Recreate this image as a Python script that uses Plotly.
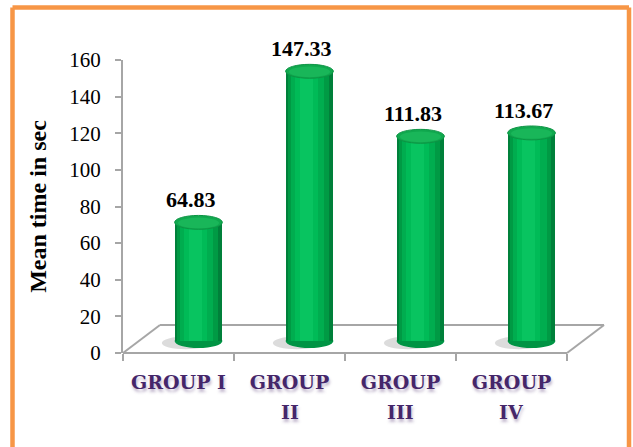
import plotly.graph_objects as go

categories = ["GROUP I", "GROUP II", "GROUP III", "GROUP IV"]
values = [64.83, 147.33, 111.83, 113.67]
labels = ["64.83", "147.33", "111.83", "113.67"]
y_ticks = [0, 20, 40, 60, 80, 100, 120, 140, 160]

W, H = 633, 447
L, R, T, B = 123, 28, 60, 94
XR = [-0.5, 3.842]
YR = [0, 160]
DX = 0.18      # depth shift of the cylinders (category units)
OFF = 6.5      # base height of the cylinders (value units)
HH = 3.8       # half height of the cap ellipse (value units)
BW = 0.43      # cylinder width

xs = [i + DX for i in range(len(values))]

layers = [  # (left offset, width, colour)
    (-BW / 2, BW, "#00803A"),
    (-0.195, 0.37, "#009A44"),
    (-0.165, 0.30, "#00AD4F"),
    (-0.13, 0.21, "#00BB57"),
    (-0.09, 0.12, "#08C460"),
]

fig = go.Figure()
for off, w, col in layers:
    fig.add_trace(go.Bar(
        x=xs, y=values, base=OFF, width=w, offset=off,
        marker=dict(color=col, line=dict(width=0)),
        hoverinfo="skip", showlegend=False,
    ))

# ticks on category boundaries
fig.add_trace(go.Scatter(x=[None], y=[None], xaxis="x2", showlegend=False))

shapes = []
def px(xp):
    return (xp - L) / (W - L - R)
def py(yp):
    return (H - B - yp) / (H - T - B)

# floor
fx0, fx1 = 0.0, (3.5 - XR[0]) / (XR[1] - XR[0])
dxp = 37 / (W - L - R)
dyp = 28 / (H - T - B)
floor_col = "#A6A6A6"
for (a, b, c, d) in [(fx0, 0, fx1, 0), (fx0, 0, fx0 + dxp, dyp), (fx1, 0, fx1 + dxp, dyp),
                     (fx0 + dxp, dyp, fx1 + dxp, dyp)]:
    shapes.append(dict(type="line", xref="paper", yref="paper", x0=a, y0=b, x1=c, y1=d,
                       line=dict(color=floor_col, width=2), layer="below"))

for xc, v in zip(xs, values):
    shapes.append(dict(type="circle", xref="x", yref="y", x0=xc - 0.33, x1=xc + 0.1,
                       y0=OFF - 4.5, y1=OFF + 2.5, fillcolor="rgba(60,60,60,0.18)",
                       line=dict(width=0), layer="below"))
    shapes.append(dict(type="circle", xref="x", yref="y", x0=xc - BW / 2, x1=xc + BW / 2,
                       y0=OFF - HH, y1=OFF + HH, fillcolor="#009444",
                       line=dict(width=0), layer="below"))
    top = v + OFF
    shapes.append(dict(type="circle", xref="x", yref="y", x0=xc - BW / 2, x1=xc + BW / 2,
                       y0=top - HH, y1=top + HH, fillcolor="#10A84E",
                       line=dict(color="#0C9444", width=1)))
    shapes.append(dict(type="circle", xref="x", yref="y", x0=xc - BW / 2 + 0.03, x1=xc + BW / 2 - 0.03,
                       y0=top - HH + 0.6, y1=top + HH - 1.2, fillcolor="#19B659",
                       line=dict(width=0)))

# orange frame (open at the bottom, as in the reference crop)
frame = dict(color="#F79646", width=4.5)
fl, fr, ft, fb = px(12.5), px(629), py(7.5), py(470)
for (a, b, c, d) in [(fl, fb, fl, ft), (fl, ft, fr, ft), (fr, ft, fr, fb)]:
    shapes.append(dict(type="line", xref="paper", yref="paper", x0=a, y0=b, x1=c, y1=d,
                       line=frame))

annotations = []
for xc, v, t in zip(xs, values, labels):
    annotations.append(dict(x=xc - 0.07, y=v + OFF + HH, xref="x", yref="y", text=f"<b>{t}</b>",
                            showarrow=False, yanchor="bottom", yshift=1,
                            font=dict(family="Liberation Serif", size=22, color="#000000")))

cat_font = dict(family="DejaVu Serif", size=19, color="#45266A", weight="bold",
                shadow="1px 3px 3px rgba(72,41,106,0.35)")
first_lines, second_lines = [], []
for c in categories:
    word, num = c.split(" ", 1)
    if len(num) > 1:
        first_lines.append(word)
        second_lines.append(num)
    else:
        first_lines.append(c)
        second_lines.append("")
for i, s in enumerate(second_lines):
    if s:
        annotations.append(dict(x=i, y=0, xref="x", yref="paper", text=s, showarrow=False,
                                yanchor="middle", yshift=-59, font=cat_font))

fig.update_layout(
    width=W, height=H,
    margin=dict(l=L, r=R, t=T, b=B, autoexpand=False),
    paper_bgcolor="white", plot_bgcolor="white",
    barmode="overlay", bargap=0,
    shapes=shapes, annotations=annotations,
    xaxis=dict(range=XR, tickmode="array", tickvals=list(range(len(categories))),
               ticktext=first_lines, ticks="", showgrid=False, zeroline=False, showline=False,
               tickfont=cat_font, ticklabelstandoff=16),
    xaxis2=dict(range=XR, overlaying="x", anchor="y", side="bottom",
                tickmode="array", tickvals=[-0.5, 0.5, 1.5, 2.5, 3.5], ticks="outside",
                ticklen=7, tickwidth=1.5, tickcolor=floor_col, showticklabels=False,
                showgrid=False, zeroline=False, showline=False),
    yaxis=dict(range=YR, tickmode="array", tickvals=y_ticks, ticks="outside", ticklen=6,
               tickwidth=1.5, tickcolor=floor_col, showline=True, linecolor=floor_col,
               linewidth=2, showgrid=False, zeroline=False, ticklabelstandoff=10,
               tickfont=dict(family="Liberation Serif", size=21, color="#000000"),
               title=dict(text="<b>Mean time in sec</b>", standoff=16,
                          font=dict(family="Liberation Serif", size=24, color="#000000"))),
)

fig.write_html("out.html", config={"displayModeBar": False},
               post_script="document.body.style.margin='0';document.body.style.overflow='hidden';")
